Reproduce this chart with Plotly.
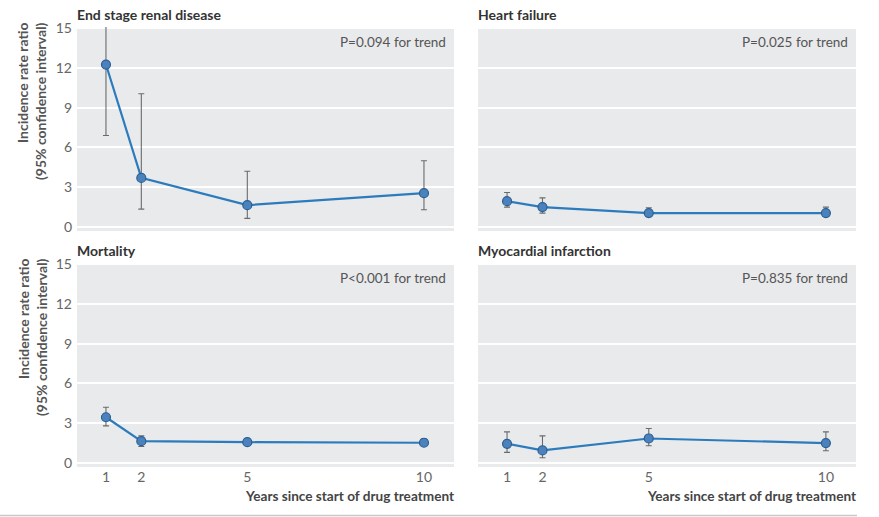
import plotly.graph_objects as go

W, H = 879, 517

years = [1, 2, 5, 10]
panel_titles = ["End stage renal disease", "Heart failure", "Mortality", "Myocardial infarction"]
p_texts = ["P=0.094 for trend", "P=0.025 for trend", "P<0.001 for trend", "P=0.835 for trend"]

esrd_irr = [12.25, 3.7, 1.65, 2.55]
esrd_lo = [6.9, 1.35, 0.65, 1.3]
esrd_hi = [22.0, 10.05, 4.2, 5.0]

hf_irr = [1.95, 1.5, 1.05, 1.05]
hf_lo = [1.5, 1.05, 0.85, 0.9]
hf_hi = [2.6, 2.2, 1.45, 1.5]

mort_irr = [3.45, 1.65, 1.57, 1.53]
mort_lo = [2.8, 1.25, 1.37, 1.3]
mort_hi = [4.2, 2.05, 1.78, 1.8]

mi_irr = [1.45, 0.95, 1.85, 1.5]
mi_lo = [0.8, 0.4, 1.3, 0.93]
mi_hi = [2.35, 2.05, 2.6, 2.35]

series = [(esrd_irr, esrd_lo, esrd_hi), (hf_irr, hf_lo, hf_hi),
          (mort_irr, mort_lo, mort_hi), (mi_irr, mi_lo, mi_hi)]

y_ticks = [0, 3, 6, 9, 12, 15]
x_ticks = [1, 2, 5, 10]

FONT = "Lato"
LINE = "#2c7bbd"
MFILL = "#4a82bd"
MEDGE = "#2d5f92"
ERR = "#6b6b6b"
BG = "#e9eaec"

def px_x(p):
    return p / W

def px_y(p):
    return 1 - p / H

# pixel boxes for panels: (left, right, top, bottom)
boxes = [(77, 454, 27, 231), (478, 856, 27, 231),
         (77, 454, 263, 467), (478, 856, 263, 467)]

fig = go.Figure()
for i, ((irr, lo, hi), (l, r, t, b)) in enumerate(zip(series, boxes)):
    k = "" if i == 0 else str(i + 1)
    plus = [h - v for h, v in zip(hi, irr)]
    minus = [v - m for v, m in zip(irr, lo)]
    fig.add_trace(go.Scatter(
        x=years, y=irr, mode="lines+markers",
        xaxis="x" + k, yaxis="y" + k,
        line=dict(color=LINE, width=2.2),
        marker=dict(size=9, color=MFILL, line=dict(color=MEDGE, width=1.2)),
        error_y=dict(type="data", symmetric=False, array=plus, arrayminus=minus,
                     color=ERR, thickness=1.1, width=3),
        showlegend=False, hoverinfo="x+y"))
    bottom_row = i >= 2
    left_col = i % 2 == 0
    fig.layout["xaxis" + k] = dict(
        domain=[px_x(l), px_x(r)], range=[0.18, 10.85], anchor="y" + k,
        tickvals=x_ticks, ticktext=[str(v) for v in x_ticks] if bottom_row else None,
        showticklabels=bottom_row, showgrid=False, zeroline=False,
        ticks="", tickfont=dict(family=FONT, size=14, color="#666"),
        automargin=False, fixedrange=True)
    fig.layout["yaxis" + k] = dict(
        domain=[px_y(b), px_y(t)], range=[-0.3, 15.08], anchor="x" + k,
        tickvals=y_ticks, showticklabels=left_col, showgrid=True,
        gridcolor="white", gridwidth=2, zeroline=False, ticks="",
        tickfont=dict(family=FONT, size=14, color="#666"), ticklabelstandoff=4,
        automargin=False, fixedrange=True)
    # background
    fig.add_shape(type="rect", xref="x" + k + " domain", yref="y" + k + " domain",
                  x0=0, x1=1, y0=0, y1=1, fillcolor=BG, line_width=0, layer="below")
    # panel title
    fig.add_annotation(text="<b>" + panel_titles[i] + "</b>", xref="paper", yref="paper",
                       x=px_x(l - 2), y=px_y(t - 13), xanchor="left", yanchor="middle",
                       showarrow=False, font=dict(family=FONT, size=14, color="#333"))
    # p text
    fig.add_annotation(text=p_texts[i], xref="paper", yref="paper",
                       x=px_x(r - 6), y=px_y(t + 15), xanchor="right", yanchor="middle",
                       showarrow=False, font=dict(family=FONT, size=13.5, color="#555"))
    if left_col:
        fig.add_annotation(text="<b>Incidence rate ratio<br>(95% confidence interval)</b>",
                           xref="paper", yref="paper", x=px_x(32), y=px_y(t - 7),
                           xanchor="center", yanchor="top", textangle=-90, align="right",
                           showarrow=False,
                           font=dict(family=FONT, size=14, color="#555"))
    if bottom_row:
        fig.add_annotation(text="<b>Years since start of drug treatment</b>",
                           xref="paper", yref="paper", x=px_x(r + 2), y=px_y(496),
                           xanchor="right", yanchor="middle", showarrow=False,
                           font=dict(family=FONT, size=13.6, color="#444"))

fig.add_shape(type="line", xref="paper", yref="paper", x0=0, x1=px_x(857),
              y0=px_y(515.5), y1=px_y(515.5), line=dict(color="#c8c8c8", width=1.5))

fig.update_layout(width=W, height=H, margin=dict(l=0, r=0, t=0, b=0, pad=0, autoexpand=False),
                  paper_bgcolor="white", plot_bgcolor="rgba(0,0,0,0)",
                  font=dict(family=FONT))

fig.write_html("out.html")
